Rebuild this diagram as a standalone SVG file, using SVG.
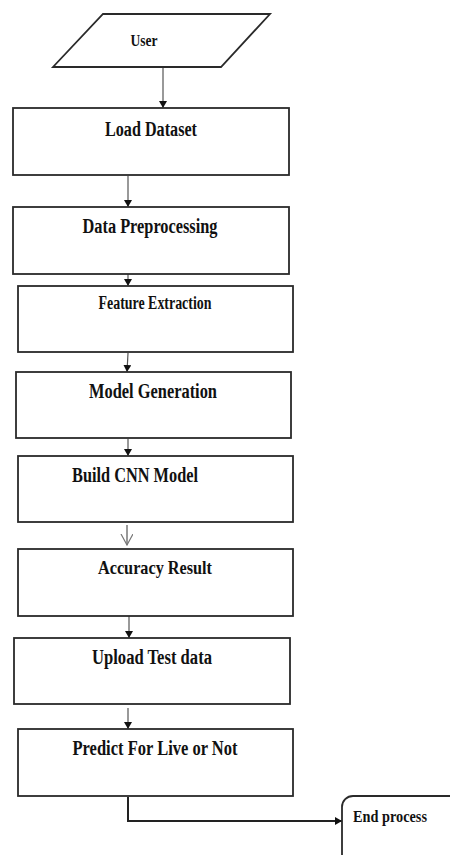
<svg xmlns="http://www.w3.org/2000/svg" width="450" height="855" viewBox="0 0 450 855">
<defs>
<style>
.box{fill:#fff;stroke:#2a2a2a;stroke-width:1.8}
.t{font-family:"Liberation Serif","Times New Roman",serif;font-weight:bold;fill:#111;text-anchor:middle}
.c{fill:none;stroke:#555;stroke-width:1.2}
.c2{fill:none;stroke:#222;stroke-width:2}
</style>
<marker id="ah" markerUnits="userSpaceOnUse" markerWidth="8" markerHeight="9" refX="7" refY="4" orient="auto">
<path d="M0,0 L7,4 L0,8 Z" fill="#111"/>
</marker>
<marker id="av" markerUnits="userSpaceOnUse" markerWidth="12" markerHeight="14" refX="11" refY="6" orient="auto">
<path d="M0,0 L11,6 L0,12" fill="none" stroke="#777" stroke-width="1.2"/>
</marker>
</defs>
<rect width="450" height="855" fill="#fff"/>
<g id="connectors">
<line class="c" x1="163" y1="67" x2="163" y2="108" marker-end="url(#ah)"/>
<line class="c" x1="128" y1="176" x2="128" y2="207" marker-end="url(#ah)"/>
<line class="c" x1="128" y1="253" x2="128" y2="286" marker-end="url(#ah)"/>
<line class="c" x1="128" y1="353" x2="127" y2="372" marker-end="url(#ah)"/>
<line class="c" x1="128" y1="439" x2="128" y2="456" marker-end="url(#ah)"/>
<line class="c" x1="127" y1="525" x2="127" y2="545" stroke="#888" marker-end="url(#av)"/>
<line class="c" x1="129" y1="609" x2="129" y2="638" marker-end="url(#ah)"/>
<line class="c" x1="128" y1="708" x2="128" y2="729" marker-end="url(#ah)"/>
<polyline class="c2" points="128,797 128,821 342,821" marker-end="url(#ah)"/>
</g>
<g id="user">
<polygon class="box" points="103,14 270,14 221,67 53,67"/>
<text class="t" x="144" y="46" font-size="16" textLength="27" lengthAdjust="spacingAndGlyphs">User</text>
</g>
<g id="load-dataset">
<rect class="box" x="13" y="108" width="276" height="67"/>
<text class="t" x="151" y="136" font-size="20" textLength="92" lengthAdjust="spacingAndGlyphs">Load Dataset</text>
</g>
<g id="data-preprocessing">
<rect class="box" x="13" y="207" width="276" height="67"/>
<text class="t" x="150" y="233" font-size="20" textLength="135" lengthAdjust="spacingAndGlyphs">Data Preprocessing</text>
</g>
<g id="feature-extraction">
<rect class="box" x="18" y="286" width="275" height="66"/>
<text class="t" x="155" y="309" font-size="18" textLength="113" lengthAdjust="spacingAndGlyphs">Feature Extraction</text>
</g>
<g id="model-generation">
<rect class="box" x="16" y="372" width="275" height="66"/>
<text class="t" x="153" y="398" font-size="20" textLength="128" lengthAdjust="spacingAndGlyphs">Model Generation</text>
</g>
<g id="build-cnn-model">
<rect class="box" x="18" y="456" width="275" height="66"/>
<text class="t" x="135" y="482" font-size="20" textLength="126" lengthAdjust="spacingAndGlyphs">Build CNN Model</text>
</g>
<g id="accuracy-result">
<rect class="box" x="18" y="549" width="275" height="67"/>
<text class="t" x="155" y="574" font-size="19" textLength="114" lengthAdjust="spacingAndGlyphs">Accuracy Result</text>
</g>
<g id="upload-test-data">
<rect class="box" x="14" y="638" width="276" height="66"/>
<text class="t" x="152" y="664" font-size="20" textLength="120" lengthAdjust="spacingAndGlyphs">Upload Test data</text>
</g>
<g id="predict">
<rect class="box" x="18" y="729" width="275" height="67"/>
<text class="t" x="155" y="755" font-size="20" textLength="165" lengthAdjust="spacingAndGlyphs">Predict For Live or Not</text>
</g>
<g id="end-process">
<rect class="box" x="342" y="796" width="140" height="80" rx="11"/>
<text class="t" x="390" y="822" font-size="17" textLength="74" lengthAdjust="spacingAndGlyphs">End process</text>
</g>
</svg>
